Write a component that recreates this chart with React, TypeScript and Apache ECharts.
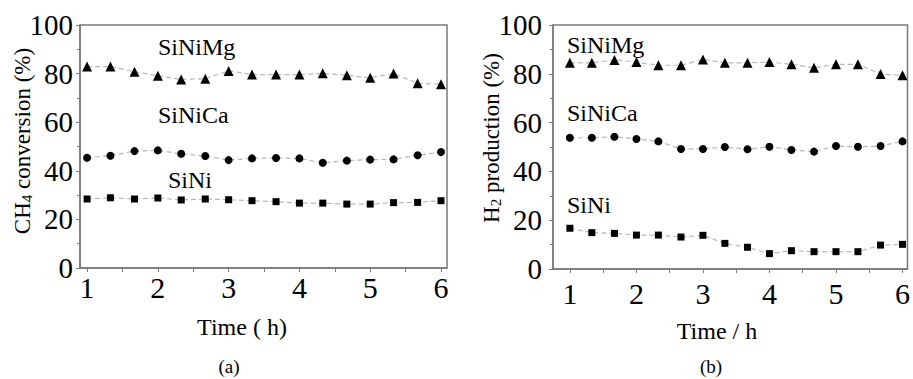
import React, { useEffect, useRef } from "react";
import * as echarts from "echarts";

const hours = [1, 1.33, 1.67, 2, 2.33, 2.67, 3, 3.33, 3.67, 4, 4.33, 4.67, 5, 5.33, 5.67, 6];
const xTickLabels = [1, 2, 3, 4, 5, 6];
const xTickMarks = [1, 1.5, 2, 2.5, 3, 3.5, 4, 4.5, 5, 5.5, 6];

// (a) CH4 conversion (%)
const convMg = [82.9, 82.9, 80.8, 79.1, 77.6, 77.9, 81.1, 79.6, 79.6, 79.6, 80.1, 79.3, 78.3, 80.0, 76.0, 75.6];
const convCa = [45.4, 46.2, 48.1, 48.4, 47.0, 46.1, 44.4, 45.1, 45.3, 45.1, 43.3, 44.2, 44.6, 44.7, 46.4, 47.7];
const convNi = [28.4, 28.9, 28.4, 28.8, 28.0, 28.4, 28.1, 27.7, 27.3, 26.7, 26.7, 26.3, 26.3, 26.9, 27.0, 27.7];

// (b) H2 production (%)
const prodMg = [84.5, 84.5, 85.7, 84.8, 83.5, 83.5, 85.9, 84.5, 84.5, 84.8, 83.9, 82.5, 83.9, 83.9, 79.9, 79.4];
const prodCa = [53.8, 53.8, 54.2, 53.3, 52.3, 49.2, 49.2, 50.0, 49.1, 50.1, 48.8, 48.1, 50.4, 50.1, 50.4, 52.3];
const prodNi = [16.7, 14.9, 14.6, 13.9, 13.9, 13.1, 13.8, 10.5, 8.9, 6.3, 7.5, 7.1, 7.1, 7.1, 9.8, 10.1];

const FONT = "Liberation Serif";
const FRAME = "#7a7a7a";

function mkSeries(vals: number[], idx: number, symbol: string, size: number) {
  return {
    type: "line",
    xAxisIndex: idx,
    yAxisIndex: idx,
    data: hours.map((h, i) => [h, vals[i]]),
    symbol,
    symbolSize: size,
    showSymbol: true,
    itemStyle: { color: "#000" },
    lineStyle: { color: "#b8b8b8", width: 1.2, type: [5, 3] },
    z: 3,
  };
}

function xAxis(idx: number, min: number, max: number, fontSize: number, margin: number) {
  return {
    type: "value",
    gridIndex: idx,
    min,
    max,
    axisLine: { show: true, lineStyle: { color: FRAME, width: 1.5 } },
    axisTick: { show: true, customValues: xTickMarks, length: 4, lineStyle: { color: FRAME, width: 1 } },
    axisLabel: {
      show: true,
      customValues: xTickLabels,
      color: "#000",
      fontFamily: FONT,
      fontWeight: "normal",
      fontSize,
      margin,
    },
    splitLine: { show: false },
  };
}

function yAxis(idx: number, fontSize: number, margin: number) {
  return {
    type: "value",
    gridIndex: idx,
    min: 0,
    max: 100,
    interval: 20,
    axisLine: { show: true, lineStyle: { color: FRAME, width: 1.5 } },
    axisTick: { show: true, length: 4, lineStyle: { color: FRAME, width: 1 } },
    minorTick: { show: true, splitNumber: 2, length: 3, lineStyle: { color: FRAME, width: 1 } },
    axisLabel: { color: "#000", fontFamily: FONT, fontWeight: "normal", fontSize, margin },
    splitLine: { show: false },
  };
}

function txt(x: number, y: number, text: string, size: number, extra: any = {}) {
  return {
    type: "text",
    x,
    y,
    style: {
      text,
      fontFamily: FONT,
      fontWeight: "normal",
      fontSize: size,
      fill: "#000",
      textAlign: extra.align || "left",
      textVerticalAlign: "middle",
      rich: extra.rich,
    },
    rotation: extra.rotation || 0,
  };
}

export default function App() {
  const ref = useRef<HTMLDivElement>(null);
  useEffect(() => {
    if (!ref.current) return;
    const chart = echarts.init(ref.current, null, { renderer: "svg" });
    const subRich = {
      sub: { fontFamily: FONT, fontSize: 15, fill: "#000", padding: [10, 0, 0, 0] },
    };
    chart.setOption({
      animation: false,
      backgroundColor: "#fff",
      grid: [
        { left: 80, top: 25, width: 367, height: 243, show: true, borderColor: FRAME, borderWidth: 1.5, containLabel: false },
        { left: 553, top: 25, width: 357, height: 244, show: true, borderColor: FRAME, borderWidth: 1.5, containLabel: false },
      ],
      xAxis: [xAxis(0, 0.9, 6.085, 30, 4), xAxis(1, 0.746, 6.075, 30, 9)],
      yAxis: [yAxis(0, 29, 7), yAxis(1, 29, 11)],
      series: [
        mkSeries(convMg, 0, "triangle", 10),
        mkSeries(convCa, 0, "circle", 8),
        mkSeries(convNi, 0, "rect", 7),
        mkSeries(prodMg, 1, "triangle", 10),
        mkSeries(prodCa, 1, "circle", 8),
        mkSeries(prodNi, 1, "rect", 7),
      ],
      graphic: [
        txt(158, 47, "SiNiMg", 24),
        txt(158, 115, "SiNiCa", 24),
        txt(168, 180, "SiNi", 24),
        txt(567, 45, "SiNiMg", 24),
        txt(567, 113, "SiNiCa", 24),
        txt(567, 205, "SiNi", 24),
        txt(22, 141, "CH{sub|4} conversion (%)", 23, { align: "center", rotation: Math.PI / 2, rich: subRich }),
        txt(491, 138, "H{sub|2} production (%)", 23, { align: "center", rotation: Math.PI / 2, rich: subRich }),
        txt(242, 327, "Time ( h)", 24, { align: "center" }),
        txt(717, 331, "Time / h", 24, { align: "center" }),
        txt(229, 366, "(a)", 19, { align: "center" }),
        txt(711, 366, "(b)", 19, { align: "center" }),
      ],
    });
    return () => chart.dispose();
  }, []);
  return (
    <div
      ref={ref}
      style={{ position: "absolute", left: 0, top: 0, width: 913, height: 379 }}
    />
  );
}
